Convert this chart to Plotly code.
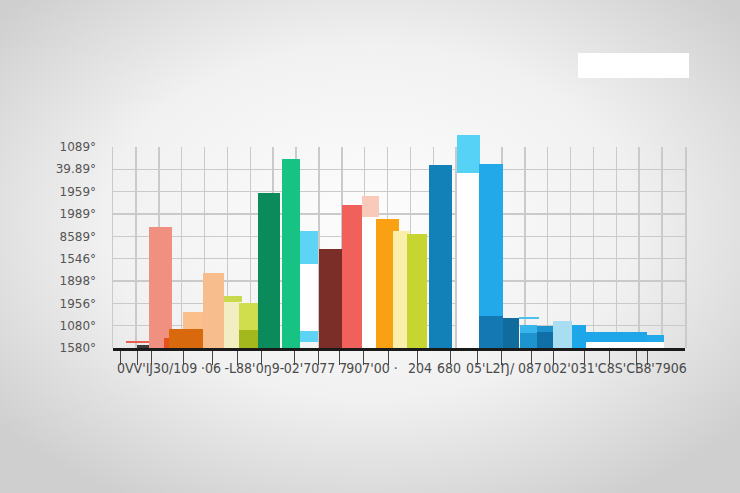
import base64
import plotly.graph_objects as go

# ---------------- data ----------------
y_tick_labels = ["1580°", "1080°", "1956°", "1898°", "1546°",
                 "8589°", "1989°", "1959°", "39.89°", "1089°"]

x_tick_marks = [0.31, 1.05, 1.70, 3.10, 4.33, 5.42, 6.51, 7.95, 9.0, 9.92,
                10.93, 12.06, 13.29, 14.77, 15.95, 17.0, 18.31, 19.27,
                20.59, 21.68, 22.9, 23.34]

x_label_pos = [1.93, 4.28, 5.55, 6.86, 8.85, 11.32, 13.42, 14.69,
               16.48, 18.23, 19.93, 22.29, 24.3]
x_label_text = ["0VV'IJ30/109", "·06", "-L88'", "0ŋ9-", "02'7077 7",
                "907'00 ·", "204", "680", "05'L2Ŋ/", "087", "002'031",
                "'C8S'CB8", "'7906"]

# bar segments: base and value (segment height)
seg_base = [0, 0, 0.76, 0,
            0.22, 0, 0, 0, 0, 0.85, 0, 0, 2.06, 0, 0.81,
            0, 0, 0.27, 3.76, 0, 0, 5.87, 0, 0, 0,
            0, 7.84, 0, 1.43, 0, 1.30, 0, 0.67, 0, 0.70,
            0, 0, 0.27, 0.27]
seg_value = [7.84, 5.87, 3.00, 0.27,
             0.10, 0.12, 5.42, 0.45, 0.85, 0.76, 3.36, 2.06, 0.27, 0.81, 1.21,
             6.94, 8.46, 0.49, 1.48, 4.43, 6.40, 0.94, 5.78, 5.24, 5.10,
             8.20, 1.70, 1.43, 6.81, 1.34, 0.09, 0.67, 0.36, 0.70, 0.29,
             1.21, 1.03, 0.45, 0.31]

# ---------------- layout of segments (position / width / colour) ----------------
seg_x = [15.54, 11.25, 8.57, 22.37,
         1.42, 1.60, 2.08, 2.36, 3.19, 3.50, 4.39, 5.18, 5.24, 5.92, 5.92,
         6.82, 7.78, 8.57, 8.57, 9.50, 10.44, 11.25, 12.00, 12.61, 13.29,
         14.31, 15.54, 16.52, 16.52, 17.40, 18.18, 18.16, 18.16, 18.88, 18.88,
         19.65, 20.37, 22.00, 23.71]
seg_w = [1.0, 0.74, 0.79, 3.41,
         1.70, 1.09, 1.0, 0.26, 1.48, 0.87, 0.92, 0.66, 0.79, 0.83, 0.83,
         0.96, 0.78, 0.79, 0.79, 1.0, 0.87, 0.74, 1.0, 0.74, 0.87,
         1.0, 1.0, 1.05, 1.05, 0.7, 0.87, 0.74, 0.74, 0.7, 0.7,
         0.83, 0.61, 2.67, 0.74]
seg_c = ["#ffffff", "#ffffff", "#ffffff", "#ffffff",
         "#e8604c", "#3a3a3a", "#f09080", "#e4521b", "#d9690d", "#fbbf8c",
         "#f8bd8c", "#f3eec2", "#c9d84c", "#a2b81c", "#d0de4e",
         "#0b8a5b", "#16c383", "#5dd4f4", "#5dd4f4", "#7b2e27", "#f0615c",
         "#f9c9b9", "#f9a113", "#f9eeaa", "#c6d52f",
         "#1181b7", "#55d2f5", "#1479b2", "#22a9e9", "#0f6c9c", "#4cc0ee",
         "#1d93d0", "#38b6ec", "#0f6fa6", "#1d92cf",
         "#a9ddf2", "#1da7e8", "#1fa6e8", "#22a9e9"]

W, H = 740, 493
L, R, T, B = 113, 55, 134, 145
pw, ph = W - L - R, H - T - B
YMAX = 9.58          # bar axis top (cyan bar rises above the grid)
XMAX = 25

fig = go.Figure()
# grid subplot (drawn first, below)
fig.add_trace(go.Scatter(x=[], y=[], xaxis="x", yaxis="y",
                         showlegend=False, hoverinfo="skip"))
# bars subplot
fig.add_trace(go.Bar(
    x=seg_x, y=seg_value, base=seg_base, width=seg_w,
    marker=dict(color=seg_c, line=dict(width=0)),
    xaxis="x2", yaxis="y2", showlegend=False, hoverinfo="skip",
))
# label axis helper
fig.add_trace(go.Scatter(x=[], y=[], xaxis="x3", yaxis="y2",
                         showlegend=False, hoverinfo="skip"))

# background radial gradient
svg = ('<svg xmlns="http://www.w3.org/2000/svg" width="740" height="493">'
       '<defs><radialGradient id="g" cx="50%" cy="45%" r="65%">'
       '<stop offset="0%" stop-color="#fdfdfd"/>'
       '<stop offset="55%" stop-color="#f1f1f1"/>'
       '<stop offset="100%" stop-color="#cfcfcf"/>'
       '</radialGradient></defs>'
       '<rect width="740" height="493" fill="url(#g)"/></svg>')
src = "data:image/svg+xml;base64," + base64.b64encode(svg.encode()).decode()

grid = "#cacaca"
fig.update_layout(
    width=W, height=H,
    margin=dict(l=L, r=R, t=T, b=B),
    paper_bgcolor="#e6e6e6",
    plot_bgcolor="rgba(0,0,0,0)",
    barmode="overlay",
    bargap=0,
    images=[dict(source=src, xref="paper", yref="paper",
                 x=-L / pw, y=1 + T / ph, sizex=W / pw, sizey=H / ph,
                 xanchor="left", yanchor="top", sizing="stretch",
                 layer="below")],
    shapes=[dict(type="rect", xref="paper", yref="paper",
                 x0=(578 - L) / pw, x1=(689 - L) / pw,
                 y0=(H - B - 78) / ph, y1=(H - B - 53) / ph,
                 fillcolor="#ffffff", line=dict(width=0), layer="above")],
    # grid subplot
    xaxis=dict(domain=[0, 1], anchor="y", range=[0, XMAX], dtick=1, tick0=0,
               showgrid=True, gridcolor=grid, gridwidth=1.5,
               showticklabels=False, ticks="", zeroline=False,
               showline=False),
    yaxis=dict(domain=[0, 9 / YMAX], anchor="x", range=[0, 9],
               tickmode="array", tickvals=list(range(10)),
               ticktext=y_tick_labels, showgrid=True, gridcolor=grid,
               gridwidth=1.5, zeroline=False, showline=True, mirror=True,
               linecolor=grid, linewidth=1.5, ticks="",
               ticklabelstandoff=13,
               tickfont=dict(family="DejaVu Sans", size=12, color="#555555")),
    # bar subplot
    xaxis2=dict(domain=[0, 1], anchor="y2", range=[0, XMAX],
                tickmode="array", tickvals=x_tick_marks, ticks="outside",
                ticklen=14, tickwidth=1, tickcolor="#444444",
                showticklabels=False, showgrid=False, zeroline=False,
                showline=True, linecolor="#1a1a1a", linewidth=3),
    yaxis2=dict(domain=[0, 1], anchor="x2", range=[0, YMAX],
                showgrid=False, zeroline=False, showline=False,
                showticklabels=False, ticks=""),
    xaxis3=dict(overlaying="x2", anchor="y2", range=[0, XMAX],
                tickmode="array", tickvals=x_label_pos, ticktext=x_label_text,
                ticks="", showgrid=False, zeroline=False, showline=False,
                ticklabelstandoff=10, tickangle=0,
                tickfont=dict(family="DejaVu Sans Condensed, Liberation Sans Narrow, Liberation Sans",
                              size=14, color="#4a4a4a")),
)

fig.write_html("out.html",
               config={"displayModeBar": False, "staticPlot": True},
               post_script="document.body.style.margin='0px';"
                           "document.body.style.overflow='hidden';")
